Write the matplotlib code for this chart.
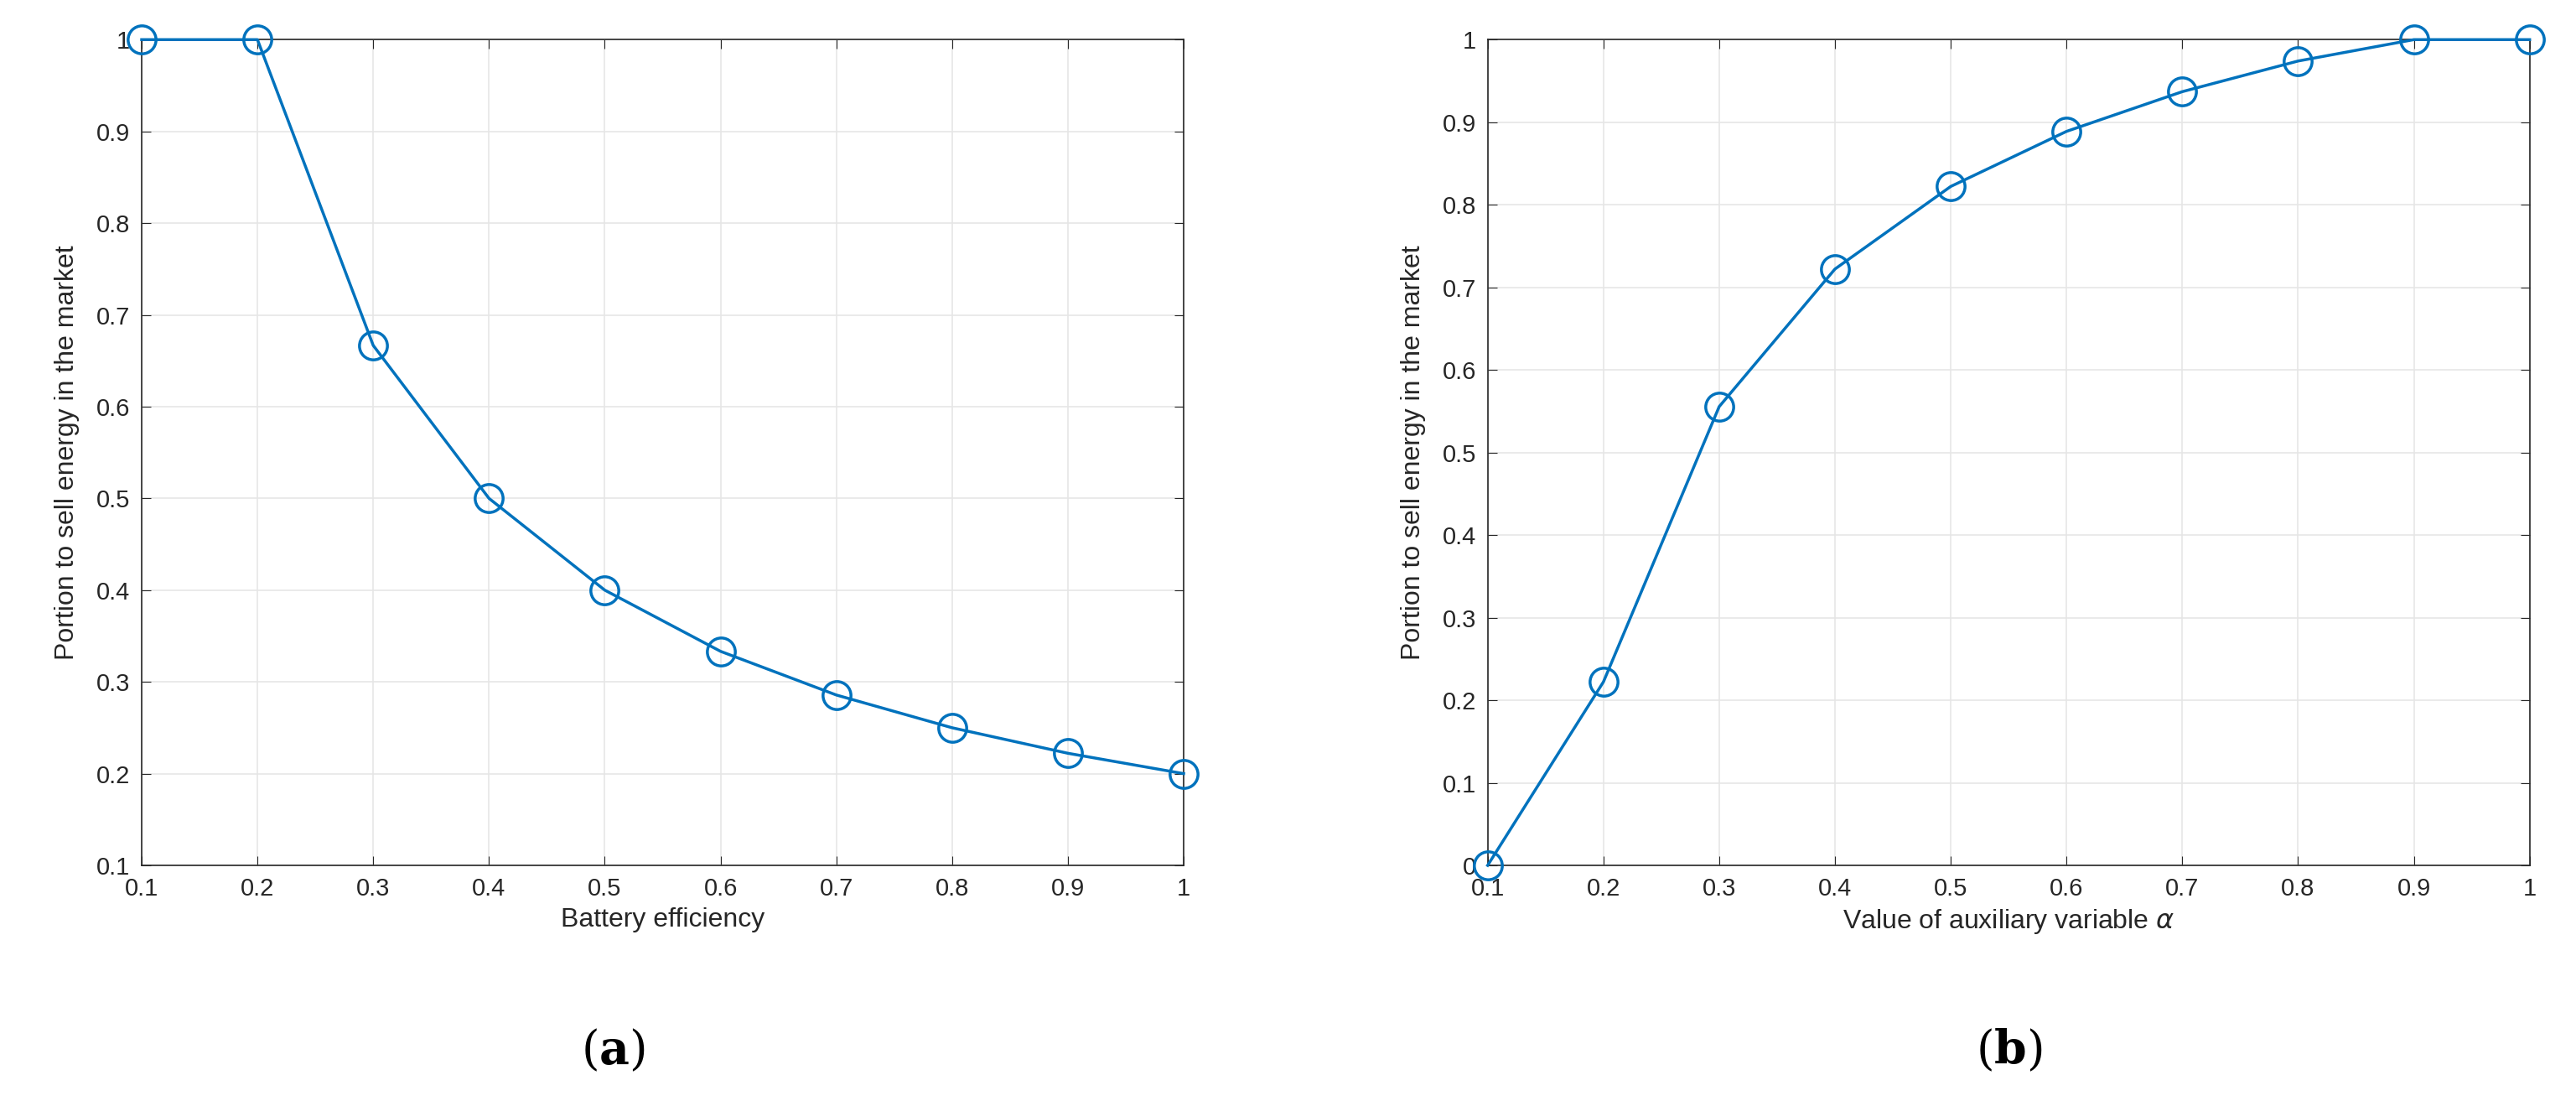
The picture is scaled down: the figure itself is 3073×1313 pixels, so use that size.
import matplotlib
matplotlib.use("Agg")
import matplotlib.pyplot as plt
import numpy as np

x = [0.1,0.2,0.3,0.4,0.5,0.6,0.7,0.8,0.9,1.0]
ya = [1,1,0.6667,0.5,0.4,0.3333,0.2857,0.25,0.2222,0.2]
yb = [0,0.2222,0.5556,0.7222,0.8222,0.8889,0.9370,0.9741,1,1]
ticks = [0.1,0.2,0.3,0.4,0.5,0.6,0.7,0.8,0.9,1]
ticklabels = ['0.1','0.2','0.3','0.4','0.5','0.6','0.7','0.8','0.9','1']

plt.rcParams['font.family'] = ['Liberation Sans', 'DejaVu Sans']
fig = plt.figure(figsize=(30.73, 13.13), dpi=100)
blue = '#0072BD'

def setup(ax, y, ylim, yt, xlabel):
    ax.plot(x, y, color=blue, lw=2.5, marker='o', ms=24, mfc='none', mew=2.5, clip_on=False, zorder=5)
    ax.set_xlim(0.1, 1); ax.set_ylim(*ylim)
    ax.set_xticks(ticks); ax.set_xticklabels(ticklabels)
    ax.set_yticks(yt); ax.set_yticklabels(['0' if v == 0 else ('1' if v == 1 else f'{v:.1f}') for v in yt])
    ax.grid(True, color='#e6e6e6', lw=1.2)
    ax.set_axisbelow(True)
    for s in ax.spines.values():
        s.set_color('#262626'); s.set_linewidth(1.2)
    ax.tick_params(labelsize=21, colors='#262626', direction='in', length=8, pad=10, top=True, right=True, labeltop=False, labelright=False)
    ax.set_xlabel(xlabel, fontsize=23, color='#262626', labelpad=6)
    ax.set_ylabel('Portion to sell energy in the market', fontsize=23, color='#262626', labelpad=14)

ax1 = fig.add_axes([0.055, 0.214, 0.4045, 0.75])
setup(ax1, ya, (0.1, 1), [0.1,0.2,0.3,0.4,0.5,0.6,0.7,0.8,0.9,1], 'Battery efficiency')
ax2 = fig.add_axes([0.5775, 0.214, 0.4045, 0.75])
setup(ax2, yb, (0, 1), [0,0.1,0.2,0.3,0.4,0.5,0.6,0.7,0.8,0.9,1], r'Value of auxiliary variable $\alpha$')

fig.text(0.238, 0.045, r'($\mathbf{a}$)', fontsize=40, ha='center', va='center', family='serif', math_fontfamily='dejavuserif')
fig.text(0.78, 0.045, r'($\mathbf{b}$)', fontsize=40, ha='center', va='center', family='serif', math_fontfamily='dejavuserif')
fig.savefig('out.png', dpi=100)
